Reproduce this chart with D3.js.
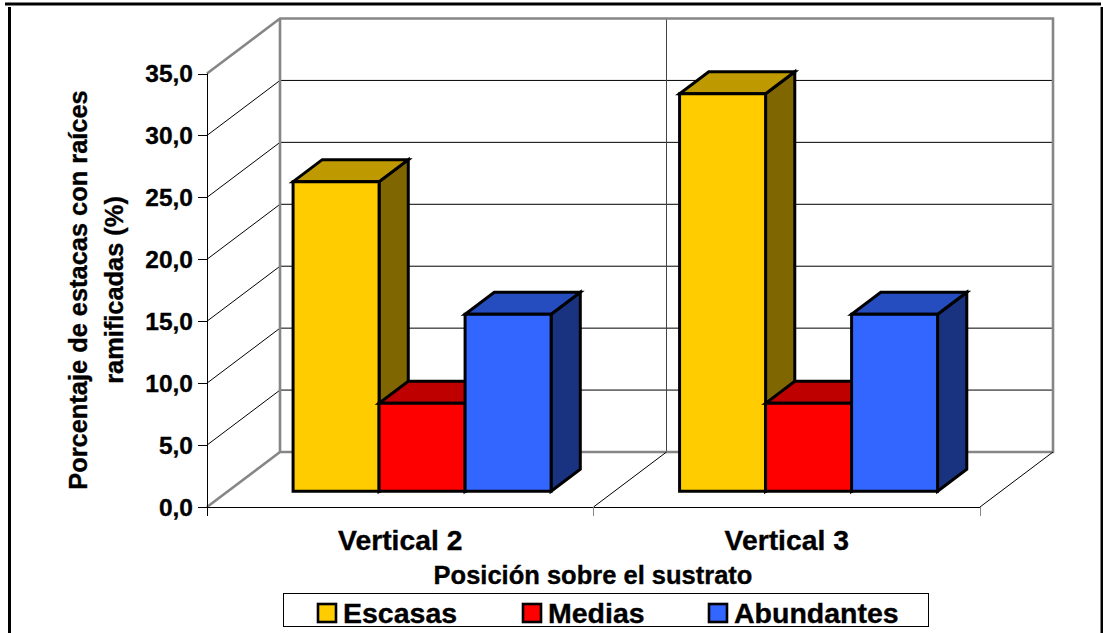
<!DOCTYPE html>
<html><head><meta charset="utf-8">
<style>html,body{margin:0;background:#fff}svg{display:block}text{font-family:"Liberation Sans",Arial,sans-serif;font-weight:bold;fill:#000;stroke:#000;stroke-width:.35px}</style>
<script src="https://cdn.jsdelivr.net/npm/d3@7"></script></head><body><script>
const categories = ["Vertical 2", "Vertical 3"];
const seriesNames = ["Escasas", "Medias", "Abundantes"];
const escasas = [25.0, 32.1];
const medias = [7.1, 7.1];
const abundantes = [14.3, 14.3];
const yTicks = [0, 5, 10, 15, 20, 25, 30, 35];
const faceColors = {
  Escasas: ["#FFCC00", "#BF9900", "#806600"],
  Medias: ["#FF0000", "#BF0000", "#800000"],
  Abundantes: ["#3366FF", "#264DBF", "#1A3380"]
};
const seriesValues = [escasas, medias, abundantes];

const W = 1103, H = 633;
const svg = d3.select("body").append("svg").attr("width", W).attr("height", H);

// Oblique projection: depth 0 is the front plane, depth 1 the back wall.
const depthX = 73, depthY = -55;
const barDepth = 0.4, barOffset = 16 / 55;
const x0 = d3.scaleBand().domain(categories).range([207, 980]);
const x1 = d3.scaleBand().domain(seriesNames).range([0, x0.bandwidth()]).paddingInner(0).paddingOuter(0.747);
const y = d3.scaleLinear().domain([0, 35]).range([507, 73.5]);
const pt = (px, v, d) => [px + d * depthX, y(v) + d * depthY];
const line = d3.line();
const G = "#868686";

// Page frame
svg.append("path").attr("d", "M5,4H1101").attr("stroke", "#000").attr("stroke-width", 3);
svg.append("path").attr("d", "M9.5,7V633M1102,7V633").attr("stroke", "#000").attr("stroke-width", 3).attr("fill", "none");

// Gridlines across the side wall and the back wall
const grid = svg.append("g");
yTicks.filter(t => t > 0 && t < 35).forEach(t => {
  grid.append("path").attr("fill", "none").attr("stroke", "#000").attr("stroke-width", 1)
    .attr("d", line([pt(207, t, 0), pt(207, t, 1), pt(980, t, 1)]));
});
grid.append("path").attr("fill", "none").attr("stroke", "#444").attr("stroke-width", 1)
  .attr("d", line([pt(x0(categories[1]), 0, 1), pt(x0(categories[1]), 35, 1)]));

// Wall and floor outline
svg.append("path").attr("fill", "none").attr("stroke", G).attr("stroke-width", 2.6)
  .attr("d", line([pt(207, 35, 0), pt(207, 35, 1), pt(980, 35, 1), pt(980, 0, 1), pt(207, 0, 1), pt(207, 0, 0)]));
svg.append("path").attr("fill", "none").attr("stroke", G).attr("stroke-width", 2.6)
  .attr("d", line([pt(207, 35, 1), pt(207, 0, 1)]));

// Floor dividers between categories
categories.forEach(c => {
  const right = x0(c) + x0.bandwidth();
  svg.append("path").attr("fill", "none").attr("stroke", "#000")
    .attr("d", line([pt(right, 0, 0), pt(right, 0, 1)]));
});

// Front axes and tick marks
const axes = svg.append("g").attr("stroke", "#000").attr("fill", "none");
axes.append("path").attr("d", line([[207.5, y(35)], [207.5, y(0)]]));
axes.append("path").attr("d", line([[207, y(0) + .5], [980, y(0) + .5]]));
yTicks.forEach(t => axes.append("path").attr("d", line([[198, Math.round(y(t)) + .5], [207, Math.round(y(t)) + .5]])));
[207, 593.5, 980].forEach((xp, i) => axes.append("path").attr("stroke", i ? G : "#000")
  .attr("d", line([[Math.floor(xp) + .5, 507], [Math.floor(xp) + .5, 516]])));

// Bars, drawn left to right so each covers its neighbour's side face
const bars = svg.append("g").attr("stroke", "#000").attr("stroke-width", 3).attr("stroke-linejoin", "miter")
  .attr("transform", "translate(0.6,0.3)");
categories.forEach((c, ci) => {
  seriesNames.forEach((s, si) => {
    const v = seriesValues[si][ci];
    const a = x0(c) + x1(s), b = a + x1.bandwidth();
    const d0 = barOffset, d1 = barOffset + barDepth;
    const [front, top, side] = faceColors[s];
    const poly = (pts, fill) => bars.append("path").attr("fill", fill).attr("d", line(pts) + "Z");
    poly([pt(b, 0, d0), pt(b, 0, d1), pt(b, v, d1), pt(b, v, d0)], side);
    poly([pt(a, v, d0), pt(b, v, d0), pt(b, v, d1), pt(a, v, d1)], top);
    poly([pt(a, 0, d0), pt(b, 0, d0), pt(b, v, d0), pt(a, v, d0)], front);
  });
});

// Tick labels
const fmt = v => d3.format(".1f")(v).replace(".", ",");
svg.append("g").selectAll("text").data(yTicks).join("text")
  .attr("x", 193).attr("y", d => y(d) + 8.5).attr("text-anchor", "end")
  .style("font-size", "24.5px").text(fmt);
svg.append("g").selectAll("text").data(categories).join("text")
  .attr("x", d => x0(d) + x0.bandwidth() / 2).attr("y", 550).attr("text-anchor", "middle")
  .style("font-size", "28.3px").text(d => d);

// Axis titles
svg.append("text").attr("x", 593).attr("y", 584).attr("text-anchor", "middle").style("font-size", "25.5px")
  .text("Posición sobre el sustrato");
const yt = svg.append("text").attr("transform", "translate(87,290) rotate(-90)").attr("text-anchor", "middle").style("font-size", "25.4px");
yt.append("tspan").attr("x", 0).attr("y", 0).text("Porcentaje de estacas con raíces");
yt.append("tspan").attr("x", 0).attr("y", 36).text("ramificadas (%)");

// Legend
svg.append("rect").attr("x", 283.5).attr("y", 593.5).attr("width", 645).attr("height", 33).attr("fill", "#fff").attr("stroke", "#000");
const legendX = d3.scaleOrdinal(seriesNames, [317, 522, 708]);
const lg = svg.append("g").selectAll("g").data(seriesNames).join("g").attr("transform", d => `translate(${legendX(d)},603)`);
lg.append("rect").attr("x", 1).attr("y", 1).attr("width", 18).attr("height", 18).attr("stroke", "#000").attr("stroke-width", 2.6).attr("fill", d => faceColors[d][0]);
lg.append("text").attr("x", 26).attr("y", 19.5).style("font-size", "28.5px").text(d => d);
</script></body></html>
